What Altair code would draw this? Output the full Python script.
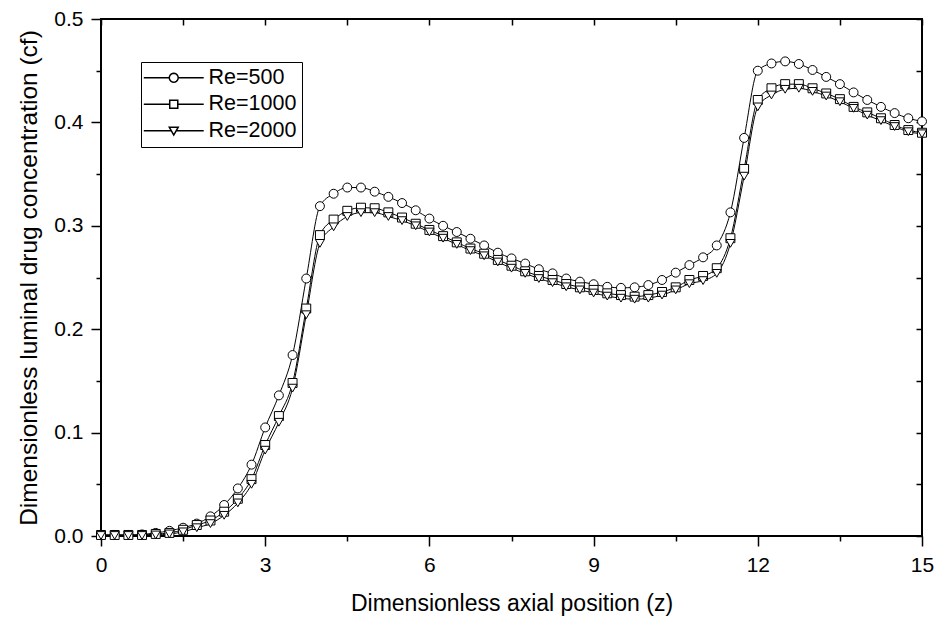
import math
import altair as alt
import pandas as pd

z = [i * 0.25 for i in range(61)]

re500 = [0.001, 0.001, 0.001, 0.0015, 0.003, 0.005, 0.008, 0.012, 0.019, 0.030,
         0.046, 0.069, 0.105, 0.136, 0.175, 0.249, 0.319, 0.331, 0.337, 0.337,
         0.333, 0.328, 0.322, 0.315, 0.307, 0.300, 0.294, 0.2875, 0.281, 0.274,
         0.2685, 0.2635, 0.258, 0.254, 0.249, 0.246, 0.2435, 0.241, 0.240, 0.2405,
         0.2427, 0.2476, 0.2547, 0.262, 0.2695, 0.281, 0.313, 0.385, 0.450, 0.457,
         0.459, 0.4565, 0.4507, 0.444, 0.437, 0.429, 0.4217, 0.415, 0.409, 0.404,
         0.401]
re1000 = [0.001, 0.001, 0.001, 0.001, 0.002, 0.003, 0.006, 0.0106, 0.015, 0.0235,
          0.036, 0.055, 0.088, 0.116, 0.148, 0.220, 0.291, 0.306, 0.3145, 0.3175,
          0.317, 0.313, 0.308, 0.302, 0.296, 0.290, 0.284, 0.278, 0.273, 0.267,
          0.2614, 0.256, 0.2515, 0.2476, 0.2437, 0.2405, 0.238, 0.2347, 0.233, 0.2315,
          0.233, 0.236, 0.2405, 0.2476, 0.2515, 0.259, 0.288, 0.355, 0.4217, 0.433,
          0.437, 0.437, 0.433, 0.428, 0.4225, 0.415, 0.4097, 0.404, 0.3975, 0.3926,
          0.390]
re2000 = [0.0005, 0.0005, 0.0005, 0.0005, 0.001, 0.002, 0.004, 0.008, 0.012, 0.020,
          0.032, 0.050, 0.083, 0.110, 0.143, 0.214, 0.283, 0.299, 0.309, 0.3127,
          0.3127, 0.309, 0.305, 0.300, 0.294, 0.288, 0.282, 0.276, 0.271, 0.265,
          0.259, 0.254, 0.249, 0.245, 0.241, 0.238, 0.235, 0.232, 0.230, 0.229,
          0.230, 0.233, 0.238, 0.244, 0.247, 0.254, 0.283, 0.348, 0.415, 0.4265,
          0.432, 0.433, 0.430, 0.4255, 0.420, 0.4136, 0.407, 0.4017, 0.396, 0.391,
          0.389]

series_names = ["Re=500", "Re=1000", "Re=2000"]
x_major = [0, 3, 6, 9, 12, 15]
x_minor = [1.5, 4.5, 7.5, 10.5, 13.5]
x_all = [i * 1.5 for i in range(11)]
y_major = [0.0, 0.1, 0.2, 0.3, 0.4, 0.5]
y_minor = [0.05, 0.15, 0.25, 0.35, 0.45]
y_all = [i * 0.05 for i in range(11)]

rows = []
for name, vals in zip(series_names, [re500, re1000, re2000]):
    for zz, cc in zip(z, vals):
        rows.append({"z": zz, "c": cc, "series": name})
df = pd.DataFrame(rows)

FONT = "Liberation Sans"
TICKFONT = "Liberation Sans Narrow, Liberation Sans"
xscale = alt.Scale(domain=[0, 15], nice=False, zero=False)
yscale = alt.Scale(domain=[0, 0.5], nice=False, zero=False)

base = alt.Chart(df)

lines = base.mark_line(color="black", strokeWidth=1, interpolate="monotone").encode(
    x=alt.X("z:Q", scale=xscale,
            axis=alt.Axis(values=x_major, orient="bottom", title="Dimensionless axial position (z)",
                          tickSize=10, tickWidth=1.5, tickColor="black", domain=False,
                          labelFontSize=21, labelFont=TICKFONT, labelColor="black", labelPadding=8,
                          titleFontSize=23, titleFont=FONT, titleColor="black", titleFontWeight="normal",
                          titlePadding=17, grid=False, labelFlush=False)),
    y=alt.Y("c:Q", scale=yscale,
            axis=alt.Axis(values=y_major, orient="left", format=".1f",
                          title="Dimensionless luminal drug concentration (cf)",
                          tickSize=10, tickWidth=1.5, tickColor="black", domain=False,
                          labelFontSize=21, labelFont=TICKFONT, labelColor="black", labelPadding=8,
                          titleFontSize=24.5, titleFont=FONT, titleColor="black", titleFontWeight="normal",
                          titlePadding=12, grid=False, labelFlush=False)),
    detail="series:N",
)

points = base.mark_point(filled=True, fill="white", stroke="black", strokeWidth=1, size=80, opacity=1).encode(
    x=alt.X("z:Q", scale=xscale,
            axis=alt.Axis(values=x_minor, orient="bottom", title=None, labels=False,
                          tickSize=5, tickWidth=1.5, tickColor="black", domain=False, grid=False)),
    y=alt.Y("c:Q", scale=yscale,
            axis=alt.Axis(values=y_minor, orient="left", title=None, labels=False,
                          tickSize=5, tickWidth=1.5, tickColor="black", domain=False, grid=False)),
    shape=alt.Shape("series:N", scale=alt.Scale(domain=series_names,
                                                range=["circle", "square", "triangle-down"]),
                    legend=None),
)

# legend glyphs: short line segment with the marker in the middle
circ = "M" + "L".join(f"{math.cos(2 * math.pi * k / 20):.3f},{math.sin(2 * math.pi * k / 20):.3f}"
                      for k in range(20)) + "Z"
leg_paths = [
    "M-6.7,0L-1,0M1,0L6.7,0" + circ,
    "M-6.7,0L-0.9,0M0.9,0L6.7,0M-0.9,-0.9L0.9,-0.9L0.9,0.9L-0.9,0.9Z",
    "M-6.7,0L-0.6,0M0.6,0L6.7,0M-1,-0.8L1,-0.8L0,0.95Z",
]

legend_layer = base.mark_point(
    filled=False, stroke="black", strokeWidth=1, size=80).encode(
    x=alt.X("z:Q", scale=xscale,
            axis=alt.Axis(values=x_all, orient="top", title=None, labels=False, offset=-6,
                          tickSize=6, tickWidth=1.5, tickColor="black", domain=False, grid=False)),
    y=alt.Y("c:Q", scale=yscale,
            axis=alt.Axis(values=y_all, orient="right", title=None, labels=False, offset=-6,
                          tickSize=6, tickWidth=1.5, tickColor="black", domain=False, grid=False)),
    opacity=alt.value(0),
    shape=alt.Shape("series:N", scale=alt.Scale(domain=series_names, range=leg_paths),
                    legend=alt.Legend(orient="none", legendX=40, legendY=43, title=None,
                                      labelFont=FONT, labelFontSize=21.5, labelColor="black",
                                      symbolOpacity=1, symbolSize=80, symbolOffset=17,
                                      labelOffset=24, rowPadding=3.5, padding=5,
                                      strokeColor="black")),
)

chart = alt.layer(lines, points, legend_layer).resolve_scale(shape="independent").resolve_axis(
    x="independent", y="independent"
).properties(
    width=821, height=517,
    autosize=alt.AutoSizeParams(type="none"),
    padding={"left": 93, "top": 11, "right": 12, "bottom": 84},
).configure_view(stroke="black", strokeWidth=2)

chart.save("out.html", embed_options={"renderer": "svg", "actions": False})
